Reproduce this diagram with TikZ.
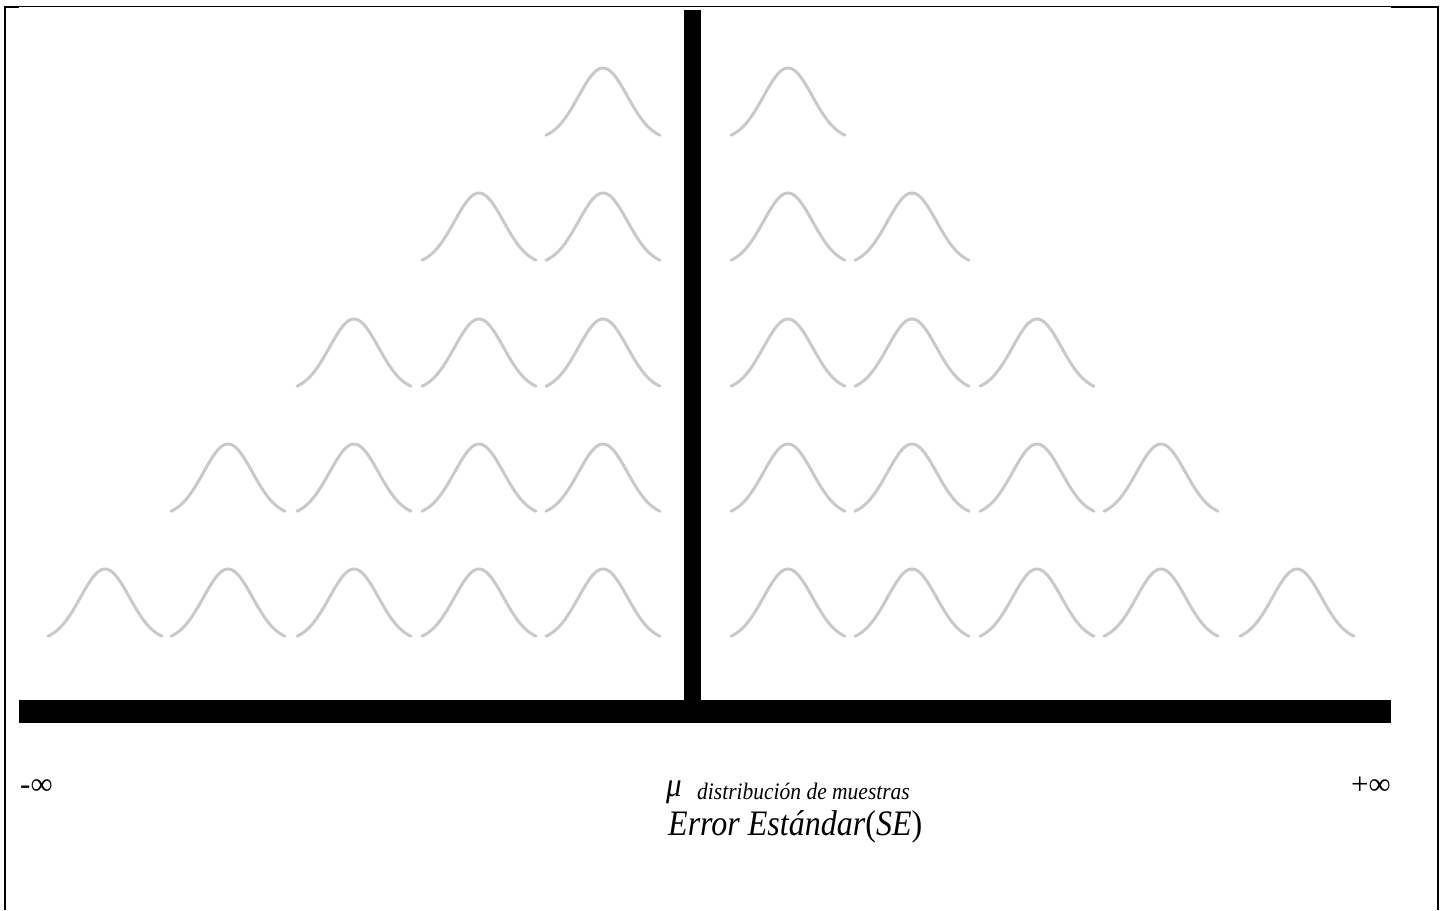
\documentclass[tikz,border=0pt]{standalone}
\usepackage{fontspec}
\setmainfont{Liberation Serif}
\begin{document}
\begin{tikzpicture}[x=1pt,y=-1pt,
  bellline/.style={draw=gray!42,line width=3pt,line cap=round},
  bell/.pic={\draw[bellline] plot[domain=-57:57,samples=60,smooth] (\x,{3-72*exp(-(\x*\x)/(2*24.5*24.5))});},
  bar/.style={fill=black,draw=none},
  lbl/.style={anchor=base west,inner sep=0pt}]
\useasboundingbox (0,0) rectangle (1442,910);
% frame
\draw[line width=1pt] (4,6) -- (1392,6);
\draw[line width=2.5pt] (4,7) -- (19,7);
\draw[line width=2.5pt] (1391,7) -- (1439,7);
\draw[line width=2.5pt] (5,6) -- (5,910);
\draw[line width=2.5pt] (1438,6) -- (1438,910);
% bells
\foreach \r/\b/\cols in {1/137/{603,788},
  2/262/{479,603,788,912},
  3/388/{354,479,603,788,912,1037},
  4/513/{228,354,479,603,788,912,1037,1161},
  5/638/{105,228,354,479,603,788,912,1037,1161,1297}}{
  \foreach \c in \cols {\pic at (\c,\b) {bell};}
}
% axes
\fill[bar] (684,10) rectangle (701,701);
\fill[bar] (19,700) rectangle (1391,723);
% labels
\node[lbl,font=\fontsize{31}{34}\selectfont] (minf) at (20,794) {-∞};
\node[lbl,font=\fontsize{31}{34}\selectfont] (pinf) at (1351,794) {+∞};
\node[lbl,font=\itshape\fontsize{31}{32}\selectfont,yscale=1.1] (mu) at (666,796) {μ};
\node[lbl,font=\itshape\fontsize{21.5}{24}\selectfont,yscale=1.1] (dist) at (697,799) {distribución de muestras};
\node[lbl,font=\fontsize{32}{36}\selectfont,yscale=1.12] (se) at (668,835) {\textit{Error Estándar}(\textit{SE})};
\end{tikzpicture}
\end{document}
